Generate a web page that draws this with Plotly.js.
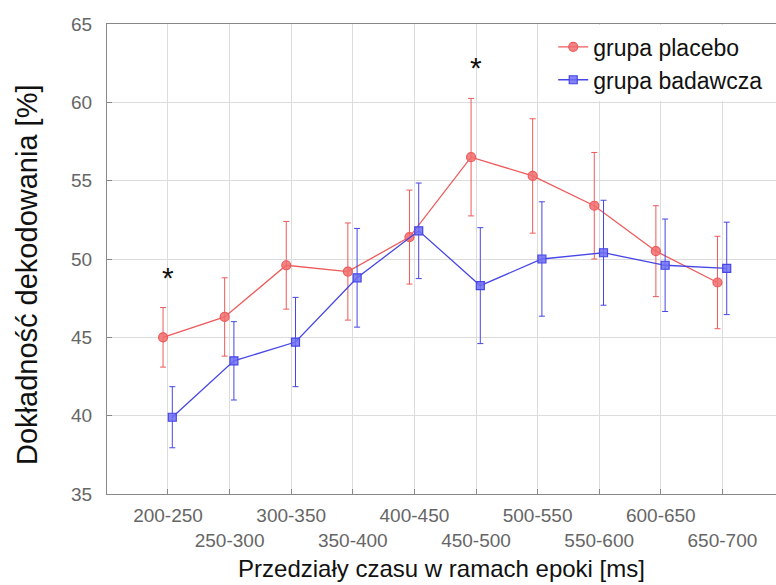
<!DOCTYPE html>
<html>
<head>
<meta charset="utf-8">
<script src="https://cdn.plot.ly/plotly-3.0.1.min.js"></script>
<style>html,body{margin:0;padding:0;background:#fff;}#chart{width:776px;height:585px;}</style>
</head>
<body>
<div id="chart"></div>
<script>
// Data
const categories = ["200-250","250-300","300-350","350-400","400-450","450-500","500-550","550-600","600-650","650-700"];
const placeboMean = [45.0, 46.3, 49.6, 49.2, 51.4, 56.5, 55.3, 53.4, 50.5, 48.5];
const placeboErr  = [1.9, 2.5, 2.8, 3.1, 3.0, 3.75, 3.65, 3.4, 2.9, 2.95];
const badawczaMean = [39.9, 43.5, 44.7, 48.8, 51.8, 48.3, 50.0, 50.4, 49.6, 49.4];
const badawczaErr  = [1.95, 2.5, 2.85, 3.15, 3.05, 3.7, 3.65, 3.35, 2.95, 2.95];
const seriesNames = ["grupa placebo", "grupa badawcza"];
const starCategories = ["200-250", "450-500"];
const starLevels = [49.2, 62.6];
const yTicks = [35, 40, 45, 50, 55, 60, 65];
const xTitle = "Przedziały czasu w ramach epoki [ms]";
const yTitle = "Dokładność dekodowania [%]";

const idx = categories.map((c, i) => i);
const tickText = categories.map((c, i) => (i % 2 === 0 ? c : "<br>" + c));
const offRed = -0.08, offBlue = 0.07;

const red = "#ee5a5a", blue = "#4646e6";
const FONT = "Liberation Sans, Arial, sans-serif";
const traces = [
  {
    x: idx.map(i => i + offRed), y: placeboMean, name: seriesNames[0],
    type: "scatter", mode: "lines+markers",
    line: {color: red, width: 1.3},
    marker: {symbol: "circle", size: 9, color: "rgba(240,110,110,0.85)", line: {color: red, width: 1.2}},
    error_y: {type: "data", array: placeboErr, visible: true, color: red, thickness: 1, width: 3}
  },
  {
    x: idx.map(i => i + offBlue), y: badawczaMean, name: seriesNames[1],
    type: "scatter", mode: "lines+markers",
    line: {color: blue, width: 1.3},
    marker: {symbol: "square", size: 8, color: "rgba(110,110,245,0.85)", line: {color: blue, width: 1.2}},
    error_y: {type: "data", array: badawczaErr, visible: true, color: blue, thickness: 1, width: 3}
  }
];

const annotations = starCategories.map((c, k) => ({
  x: categories.indexOf(c), y: starLevels[k], xref: "x", yref: "y",
  text: "*", showarrow: false, yanchor: "middle", yshift: -6,
  font: {family: FONT, size: 30, color: "#111"}
}));
annotations.push({
  xref: "paper", yref: "paper", x: -0.1196, y: 0.466,
  xanchor: "center", yanchor: "middle", textangle: -90,
  text: yTitle, showarrow: false,
  font: {family: FONT, size: 29, color: "#111"}
});

const layout = {
  width: 776, height: 585,
  margin: {l: 107, r: 0, t: 24, b: 91, pad: 0},
  paper_bgcolor: "#fff", plot_bgcolor: "#fff",
  font: {family: FONT, color: "#111"},
  showlegend: true,
  legend: {
    x: 0.667, y: 0.997, xanchor: "left", yanchor: "top",
    bgcolor: "#fff", borderwidth: 0,
    font: {size: 23, color: "#111"}, tracegroupgap: 0, itemwidth: 30
  },
  xaxis: {
    range: [-0.99, 9.87],
    tickmode: "array", tickvals: idx, ticktext: tickText, tickangle: 0,
    ticks: "inside", ticklen: 5, tickcolor: "#888",
    showline: true, linecolor: "#888", linewidth: 1, mirror: true,
    showgrid: true, gridcolor: "#dcdcdc", gridwidth: 1, zeroline: false,
    tickfont: {size: 19, color: "#666"},
    ticklabelstandoff: 4,
    automargin: false,
    title: {text: xTitle, font: {size: 24, color: "#111"}, standoff: 10}
  },
  yaxis: {
    range: [35, 65],
    tickmode: "array", tickvals: yTicks,
    ticks: "inside", ticklen: 5, tickcolor: "#888",
    showline: true, linecolor: "#888", linewidth: 1, mirror: true,
    showgrid: true, gridcolor: "#dcdcdc", gridwidth: 1, zeroline: false,
    tickfont: {size: 19, color: "#666"},
    ticklabelstandoff: 10,
    automargin: false
  },
  annotations: annotations
};

Plotly.newPlot("chart", traces, layout, {displayModeBar: false, staticPlot: true});
</script>
</body>
</html>
